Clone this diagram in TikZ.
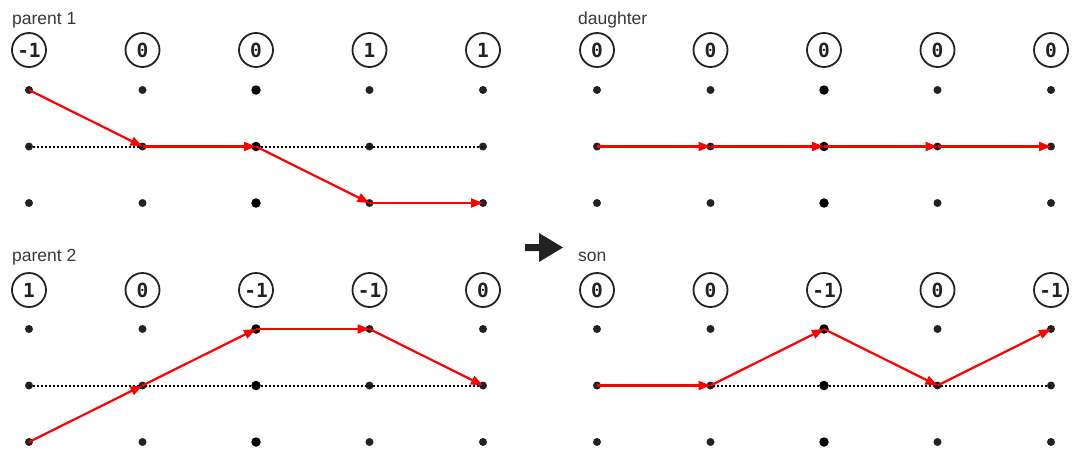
\documentclass[tikz,border=0pt]{standalone}
\usepackage{fontspec}
\setmainfont{Liberation Sans}
\newfontfamily\digitfont{DejaVu Sans Mono}
\usetikzlibrary{arrows.meta}
\definecolor{ink}{HTML}{222222}
\tikzset{
  gdot/.style={circle,fill=ink,inner sep=0pt,minimum size=8pt},
  bdot/.style={circle,fill=black,inner sep=0pt,minimum size=9.5pt},
  val/.style={circle,draw=ink,line width=1.8pt,minimum size=34pt,inner sep=0pt,
    font=\digitfont\bfseries\fontsize{19.5}{19.5}\selectfont,text=ink},
  ttl/.style={anchor=base west,font=\fontsize{17.5}{17.5}\selectfont,text=ink!90,inner sep=0pt},
  axisline/.style={black,line width=2pt,dash pattern=on 2pt off 2pt},
  seg/.style={red,line width=2.2pt,-{Triangle[length=12pt,width=9pt]}},
}
\begin{document}
\begin{tikzpicture}[x=1pt,y=-1pt]
\useasboundingbox (0,0) rectangle (1073,455);
\newcommand{\mkpanel}[3]{%
  % #1 prefix, #2 x offset, #3 top row y
  \foreach \i in {0,...,4} {
    \foreach \r in {0,1,2} {
      \ifnum\i=2
        \node[bdot] (#1d\i\r) at (#2+113.5*\i,#3+56.5*\r) {};
      \else
        \node[gdot] (#1d\i\r) at (#2+113.5*\i,#3+56.5*\r) {};
      \fi
    }
  }
  \draw[axisline] (#1d01.center) -- (#1d41.center);
}
\mkpanel{a}{29}{90}
\mkpanel{b}{29}{329}
\mkpanel{c}{597}{90}
\mkpanel{d}{597}{329}

% titles
\node[ttl] (t1) at (12,24) {parent 1};
\node[ttl] (t2) at (12,261) {parent 2};
\node[ttl] (t3) at (578,24) {daughter};
\node[ttl] (t4) at (578,261) {son};

% value circles
\node[val] (av0) at (29,50) {-1};
\node[val] (av1) at (142.5,50) {0};
\node[val] (av2) at (256,50) {0};
\node[val] (av3) at (369.5,50) {1};
\node[val] (av4) at (483,50) {1};

\node[val] (bv0) at (29,290) {1};
\node[val] (bv1) at (142.5,290) {0};
\node[val] (bv2) at (256,290) {-1};
\node[val] (bv3) at (369.5,290) {-1};
\node[val] (bv4) at (483,290) {0};

\node[val] (cv0) at (597,50) {0};
\node[val] (cv1) at (710.5,50) {0};
\node[val] (cv2) at (824,50) {0};
\node[val] (cv3) at (937.5,50) {0};
\node[val] (cv4) at (1051,50) {0};

\node[val] (dv0) at (597,290) {0};
\node[val] (dv1) at (710.5,290) {0};
\node[val] (dv2) at (824,290) {-1};
\node[val] (dv3) at (937.5,290) {0};
\node[val] (dv4) at (1051,290) {-1};

% paths
\draw[seg] (ad00.center) -- (ad11.center);
\draw[seg] (ad11.center) -- (ad21.center);
\draw[seg] (ad21.center) -- (ad32.center);
\draw[seg] (ad32.center) -- (ad42.center);

\draw[seg] (bd02.center) -- (bd11.center);
\draw[seg] (bd11.center) -- (bd20.center);
\draw[seg] (bd20.center) -- (bd30.center);
\draw[seg] (bd30.center) -- (bd41.center);

\draw[seg] (cd01.center) -- (cd11.center);
\draw[seg] (cd11.center) -- (cd21.center);
\draw[seg] (cd21.center) -- (cd31.center);
\draw[seg] (cd31.center) -- (cd41.center);

\draw[seg] (dd01.center) -- (dd11.center);
\draw[seg] (dd11.center) -- (dd20.center);
\draw[seg] (dd20.center) -- (dd31.center);
\draw[seg] (dd31.center) -- (dd40.center);

% big arrow
\fill[ink] (525,244) -- (539,244) -- (539,233) -- (563,247.5) -- (539,262) -- (539,251) -- (525,251) -- cycle;
\end{tikzpicture}
\end{document}
